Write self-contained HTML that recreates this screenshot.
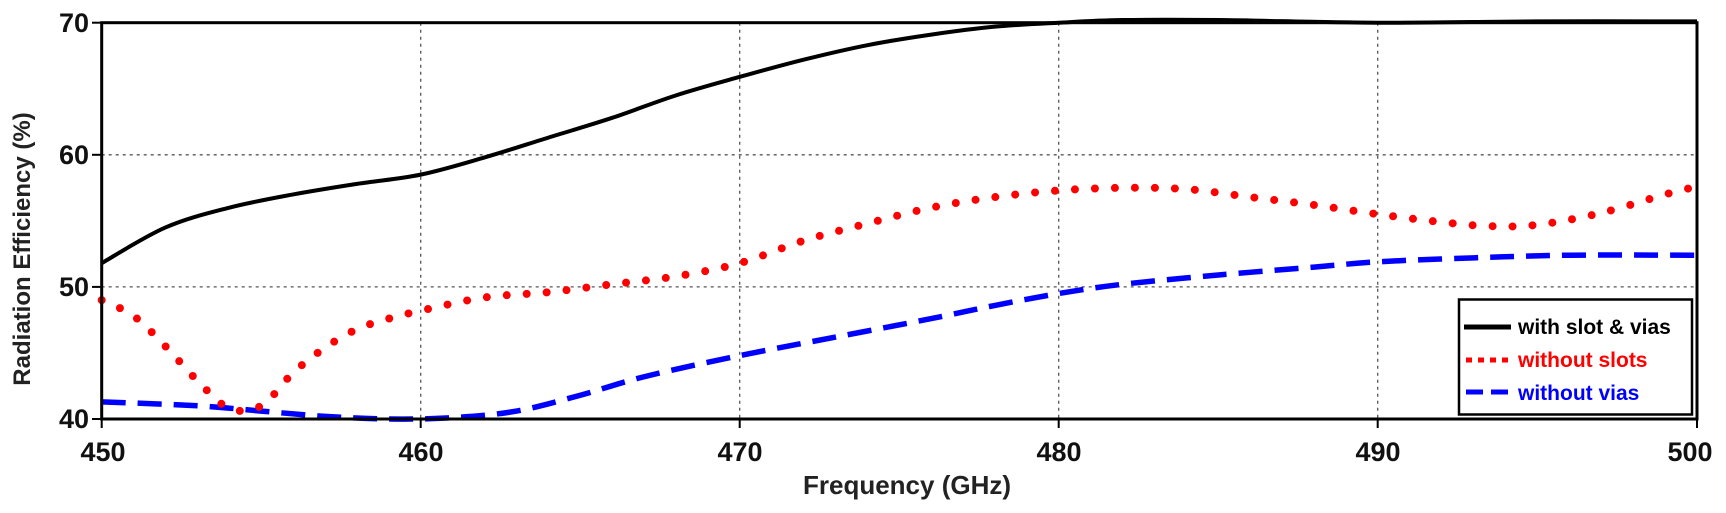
<!DOCTYPE html>
<html><head><meta charset="utf-8"><style>
html,body{margin:0;padding:0;background:#fff;}
svg{display:block;font-family:"Liberation Sans",sans-serif;font-weight:bold;}
</style></head><body>
<svg id="s" width="1726" height="513" viewBox="0 0 1726 513" xmlns="http://www.w3.org/2000/svg">
<g stroke="#555" stroke-width="1.3" stroke-dasharray="3 4">
<line x1="420.7" y1="22.7" x2="420.7" y2="419"/>
<line x1="739.7" y1="22.7" x2="739.7" y2="419"/>
<line x1="1058.7" y1="22.7" x2="1058.7" y2="419"/>
<line x1="1377.7" y1="22.7" x2="1377.7" y2="419"/>
<line x1="101.7" y1="154.8" x2="1697" y2="154.8"/>
<line x1="101.7" y1="286.9" x2="1697" y2="286.9"/>
</g>
<g id="series"></g>
<rect x="101.7" y="22.7" width="1595.3" height="396.3" fill="none" stroke="#000" stroke-width="3"/>
<g stroke="#000" stroke-width="2">
<line x1="92" y1="22.7" x2="101" y2="22.7"/><line x1="92" y1="154.8" x2="101" y2="154.8"/>
<line x1="92" y1="286.9" x2="101" y2="286.9"/><line x1="92" y1="419" x2="101" y2="419"/>
<line x1="101.7" y1="419" x2="101.7" y2="428"/><line x1="420.7" y1="419" x2="420.7" y2="428"/>
<line x1="739.7" y1="419" x2="739.7" y2="428"/><line x1="1058.7" y1="419" x2="1058.7" y2="428"/>
<line x1="1377.7" y1="419" x2="1377.7" y2="428"/><line x1="1697" y1="419" x2="1697" y2="428"/>
</g>
<g font-size="27" text-anchor="end" fill="#111">
<text x="89" y="32">70</text><text x="89" y="164">60</text><text x="89" y="296">50</text><text x="89" y="428">40</text>
</g>
<g font-size="27" text-anchor="middle" fill="#111">
<text x="103" y="461">450</text><text x="421" y="461">460</text><text x="740" y="461">470</text>
<text x="1059" y="461">480</text><text x="1378" y="461">490</text><text x="1690" y="461">500</text>
</g>
<text x="907" y="494" font-size="26" text-anchor="middle" fill="#222">Frequency (GHz)</text>
<text transform="translate(30,249) rotate(-90)" font-size="24" text-anchor="middle" fill="#222">Radiation Efficiency (%)</text>
<rect x="1459" y="299.5" width="233" height="115" fill="#fff" stroke="#000" stroke-width="2.5"/>
<line x1="1464" y1="327" x2="1511" y2="327" stroke="#000" stroke-width="5"/>
<line x1="1466" y1="360" x2="1511" y2="360" stroke="red" stroke-width="5" stroke-dasharray="6 6"/>
<line x1="1466" y1="392" x2="1512" y2="392" stroke="blue" stroke-width="5" stroke-dasharray="17 8"/>
<g font-size="21">
<text x="1518" y="334" fill="#000">with slot &amp; vias</text>
<text x="1518" y="367" fill="red">without slots</text>
<text x="1518" y="400" fill="blue">without vias</text>
</g>
</svg>
<script>
function px(x){return 101.7+(x-450)*31.906;}
function py(y){return 419-(y-40)*13.21;}
function path(d){
 var p=d.map(function(a){return [px(a[0]),py(a[1])];});
 var s="M"+p[0][0]+","+p[0][1];
 for(var i=0;i<p.length-1;i++){
  var p0=p[i-1]||p[i],p1=p[i],p2=p[i+1],p3=p[i+2]||p2;
  s+=" C"+(p1[0]+(p2[0]-p0[0])/6)+","+(p1[1]+(p2[1]-p0[1])/6)+" "+(p2[0]-(p3[0]-p1[0])/6)+","+(p2[1]-(p3[1]-p1[1])/6)+" "+p2[0]+","+p2[1];
 }
 return s;
}
var K=[[450,51.8],[452,54.5],[454,56],[456,57],[458,57.8],[460,58.5],[462,59.8],[464,61.3],[466,62.8],[468,64.5],[470,65.9],[472,67.2],[474,68.3],[476,69.1],[478,69.7],[480,70],[482,70.2],[485,70.2],[490,70],[495,70.1],[500,70.1]];
var R=[[450,49],[451,47.8],[452,45.5],[453,42.9],[454,40.8],[455,41],[456,43.5],[457,45.4],[458,46.8],[459,47.6],[460,48.2],[462,49.2],[464,49.6],[466,50.2],[468,50.8],[470,51.8],[472,53.5],[474,54.8],[476,56],[478,56.8],[480,57.3],[482,57.5],[484,57.4],[486,56.8],[488,56.2],[490,55.5],[492,54.9],[493.5,54.6],[495,54.7],[497,55.6],[499,57],[500,57.6]];
var B=[[450,41.3],[453,41],[455,40.6],[457,40.2],[459,40],[461,40.1],[463,40.6],[465,41.8],[467,43.2],[470,44.8],[473,46.2],[476,47.6],[478,48.6],[480,49.5],[482,50.2],[485,50.9],[488,51.5],[490,51.9],[493,52.2],[496,52.4],[500,52.4]];
var g=document.getElementById("series"),ns="http://www.w3.org/2000/svg";
function add(d,attrs){var e=document.createElementNS(ns,"path");e.setAttribute("d",path(d));e.setAttribute("fill","none");for(var k in attrs)e.setAttribute(k,attrs[k]);g.appendChild(e);}
add(B,{stroke:"blue","stroke-width":"5.5","stroke-dasharray":"24 12"});
add(R,{stroke:"red","stroke-width":"8","stroke-dasharray":"0 20","stroke-linecap":"round"});
add(K,{stroke:"#000","stroke-width":"4"});
</script>
</body></html>
